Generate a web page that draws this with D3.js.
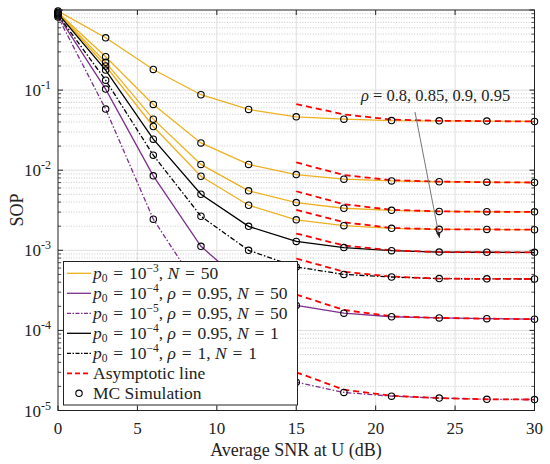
<!DOCTYPE html>
<html><head><meta charset="utf-8">
<script src="https://cdn.jsdelivr.net/npm/d3@7"></script>
<style>body{margin:0;background:#fff}</style>
</head><body><svg id="c" width="550" height="464"></svg>
<script>
// ---- data ----
const snr = [0,3,6,9,12,15,18,21,24,27,30];
const xTicks = [0,5,10,15,20,25,30];
const yTickExp = [-1,-2,-3,-4,-5];
const orange1 = [0.97,0.45,0.181,0.0875,0.0573,0.0464,0.0434,0.0417,0.0414,0.041,0.0406];
const orange2 = [0.93,0.261,0.0662,0.0219,0.0118,0.00883,0.00772,0.00735,0.00717,0.00708,0.00702];
const orange3 = [0.92,0.222,0.0434,0.0118,0.00552,0.00394,0.00335,0.00316,0.00306,0.00303,0.00302];
const orange4 = [0.91,0.20,0.0351,0.0084,0.00365,0.00240,0.00203,0.00188,0.00183,0.00182,0.00181];
const purpleSolid = [0.85,0.103,0.0085,0.00112,0.00034,0.000205,0.000164,0.000148,0.000143,0.00014,0.000138];
const purpleDash = [0.82,0.0579,0.00245,0.0003,0.00007,0.0000226,0.0000168,0.0000151,0.0000143,0.0000138,0.0000137];
const blackSolid = [0.90,0.178,0.0244,0.00501,0.00199,0.00129,0.00108,0.00099,0.00095,0.000945,0.000944];
const blackDash = [0.87,0.133,0.0154,0.00266,0.0010,0.00062,0.0005,0.000464,0.000443,0.00044,0.000438];
const snrAsym = [15,18,21,24,27,30];
const asym1 = [0.0668,0.0497,0.0428,0.0414,0.041,0.0406];
const asym2 = [0.0125,0.0087,0.0075,0.0072,0.00708,0.00702];
const asym3 = [0.00546,0.00376,0.0032,0.00306,0.00303,0.00302];
const asym4 = [0.00319,0.00224,0.0019,0.00183,0.00182,0.00181];
const asymPS = [0.00028,0.00018,0.00015,0.000143,0.00014,0.000138];
const asymPD = [0.00003,0.0000182,0.0000153,0.0000143,0.0000138,0.0000137];
const asymBS = [0.00162,0.00115,0.0010,0.00095,0.000945,0.000944];
const asymBD = [0.00079,0.00054,0.00047,0.000443,0.00044,0.000438];
const annotation = "ρ = 0.8, 0.85, 0.9, 0.95";

const SERIF = "'Liberation Serif', 'Times New Roman', serif";
const ORANGE = "#EDB120", PURPLE = "#7E2F8E", BLACK = "#000", RED = "#FF0000";
const series = [
  {v:orange1,c:ORANGE,d:null},{v:orange2,c:ORANGE,d:null},{v:orange3,c:ORANGE,d:null},{v:orange4,c:ORANGE,d:null},
  {v:purpleSolid,c:PURPLE,d:null},{v:purpleDash,c:PURPLE,d:"5,2,1.5,2"},
  {v:blackSolid,c:BLACK,d:null},{v:blackDash,c:BLACK,d:"5,2,1.5,2"}
];
const asyms = [asym1,asym2,asym3,asym4,asymPS,asymPD,asymBS,asymBD];

const svg = d3.select("#c");
const L=58, R=534.5, T=10, B=410.5;
const x = d3.scaleLinear([0,30],[L,R]);
const y = d3.scaleLog([1e-5,1],[B,T]);

// grid
const g = svg.append("g");
const minors = [];
for (let e=-5;e<0;e++) for (let k=2;k<=9;k++) minors.push(k*Math.pow(10,e));
g.selectAll(".ymin").data(minors).join("line")
  .attr("x1",L).attr("x2",R).attr("y1",d=>y(d)).attr("y2",d=>y(d))
  .attr("stroke","#bdbdbd").attr("stroke-width",0.8).attr("stroke-dasharray","1,1.6");
g.selectAll(".ymaj").data(yTickExp.map(e=>Math.pow(10,e))).join("line")
  .attr("x1",L).attr("x2",R).attr("y1",d=>y(d)).attr("y2",d=>y(d))
  .attr("stroke","#dedede").attr("stroke-width",1);
g.selectAll(".xmaj").data(xTicks.slice(1,-1)).join("line")
  .attr("x1",d=>x(d)).attr("x2",d=>x(d)).attr("y1",T).attr("y2",B)
  .attr("stroke","#dedede").attr("stroke-width",1);

// curves
const line = d3.line().x(d=>x(d[0])).y(d=>y(d[1]));
series.forEach(s=>{
  svg.append("path").attr("d",line(snr.map((t,i)=>[t,s.v[i]])))
    .attr("fill","none").attr("stroke",s.c).attr("stroke-width",1.3)
    .attr("stroke-dasharray",s.d);
});
asyms.forEach(a=>{
  svg.append("path").attr("d",line(snrAsym.map((t,i)=>[t,a[i]])))
    .attr("fill","none").attr("stroke",RED).attr("stroke-width",1.8)
    .attr("stroke-dasharray","6,4");
});
series.forEach(s=>{
  svg.append("g").selectAll("circle").data(snr.map((t,i)=>[t,s.v[i]])).join("circle")
    .attr("cx",d=>x(d[0])).attr("cy",d=>y(d[1])).attr("r",3.2)
    .attr("fill","none").attr("stroke","#000").attr("stroke-width",1.1);
});

function txt(sel){ return sel.append("text").style("font-family",SERIF).style("fill","#222"); }

// axes box + ticks
const ax = svg.append("g");
ax.append("rect").attr("x",L).attr("y",T).attr("width",R-L).attr("height",B-T)
  .attr("fill","none").attr("stroke","#222").attr("stroke-width",1);
xTicks.forEach(t=>{
  ax.append("line").attr("x1",x(t)).attr("x2",x(t)).attr("y1",B).attr("y2",B-5).attr("stroke","#222");
  ax.append("line").attr("x1",x(t)).attr("x2",x(t)).attr("y1",T).attr("y2",T+5).attr("stroke","#222");
  txt(ax).attr("x",x(t)).attr("y",434).attr("text-anchor","middle").style("font-size","17px").text(t);
});
[0,-1,-2,-3,-4,-5].forEach(e=>{
  const v=Math.pow(10,e);
  ax.append("line").attr("x1",L).attr("x2",L+5).attr("y1",y(v)).attr("y2",y(v)).attr("stroke","#222");
  ax.append("line").attr("x1",R).attr("x2",R-5).attr("y1",y(v)).attr("y2",y(v)).attr("stroke","#222");
});
minors.forEach(v=>{
  ax.append("line").attr("x1",L).attr("x2",L+3).attr("y1",y(v)).attr("y2",y(v)).attr("stroke","#222").attr("stroke-width",0.8);
  ax.append("line").attr("x1",R).attr("x2",R-3).attr("y1",y(v)).attr("y2",y(v)).attr("stroke","#222").attr("stroke-width",0.8);
});
yTickExp.forEach(e=>{
  const t = txt(ax).attr("x",51).attr("y",y(Math.pow(10,e))+6).attr("text-anchor","end").style("font-size","17px");
  t.append("tspan").text("10");
  t.append("tspan").attr("dy",-7).style("font-size","12px").text("-"+(-e));
});
txt(svg).attr("x",296).attr("y",456).attr("text-anchor","middle").style("font-size","18px").text("Average SNR at U (dB)");
txt(svg).attr("transform","translate(23,210) rotate(-90)").attr("text-anchor","middle").style("font-size","18px").text("SOP");

// annotation
svg.append("defs").append("marker").attr("id","ah").attr("viewBox","0 0 10 10").attr("refX",10).attr("refY",5)
  .attr("markerWidth",6).attr("markerHeight",6).attr("orient","auto")
  .append("path").attr("d","M0,1 L10,5 L0,9 Z").attr("fill","#222");
svg.append("line").attr("x1",415).attr("y1",112).attr("x2",439.5).attr("y2",238)
  .attr("stroke","#777").attr("stroke-width",1).attr("marker-end","url(#ah)");
const an = txt(svg).attr("x",361).attr("y",101).style("font-size","16.5px");
an.append("tspan").style("font-style","italic").text("ρ");
an.append("tspan").text(annotation.slice(1));

// legend
const EQ = "\u2004=\u2004";
const lg = svg.append("g");
lg.append("rect").attr("x",63.5).attr("y",261.5).attr("width",234).attr("height",143.5)
  .attr("fill","#fff").attr("stroke","#222").attr("stroke-width",1);
const items = [
  {c:ORANGE,d:null,parts:[["p","i"],["0","sub"],[EQ+"10"],["−3","sup"],[", "],["N","i"],[EQ+"50"]]},
  {c:PURPLE,d:null,parts:[["p","i"],["0","sub"],[EQ+"10"],["−4","sup"],[", "],["ρ","i"],[EQ+"0.95, "],["N","i"],[EQ+"50"]]},
  {c:PURPLE,d:"4,1.5,1.5,1.5",parts:[["p","i"],["0","sub"],[EQ+"10"],["−5","sup"],[", "],["ρ","i"],[EQ+"0.95, "],["N","i"],[EQ+"50"]]},
  {c:BLACK,d:null,parts:[["p","i"],["0","sub"],[EQ+"10"],["−4","sup"],[", "],["ρ","i"],[EQ+"0.95, "],["N","i"],[EQ+"1"]]},
  {c:BLACK,d:"4,1.5,1.5,1.5",parts:[["p","i"],["0","sub"],[EQ+"10"],["−4","sup"],[", "],["ρ","i"],[EQ+"1, "],["N","i"],[EQ+"1"]]},
  {c:RED,d:"5,3",w:1.8,parts:[["Asymptotic line"]]},
  {mk:true,parts:[["MC Simulation"]]}
];
items.forEach((it,i)=>{
  const cy = 273.3 + i*20;
  if (it.mk) {
    lg.append("circle").attr("cx",79).attr("cy",cy).attr("r",3.2).attr("fill","none").attr("stroke","#000").attr("stroke-width",1.1);
  } else {
    lg.append("line").attr("x1",67).attr("x2",91).attr("y1",cy).attr("y2",cy)
      .attr("stroke",it.c).attr("stroke-width",it.w||1.3).attr("stroke-dasharray",it.d);
  }
  const t = txt(lg).attr("x",93).attr("y",cy+6).style("font-size","17.5px");
  let shift = 0;
  it.parts.forEach(p=>{
    const ts = t.append("tspan").text(p[0]);
    if (p[1]==="i") ts.style("font-style","italic");
    let target = 0;
    if (p[1]==="sub") { ts.style("font-size","11.5px"); target = 2.5; }
    if (p[1]==="sup") { ts.style("font-size","11.5px"); target = -7; }
    if (target!==shift) { ts.attr("dy",target-shift); shift = target; }
  });
});
</script></body></html>
